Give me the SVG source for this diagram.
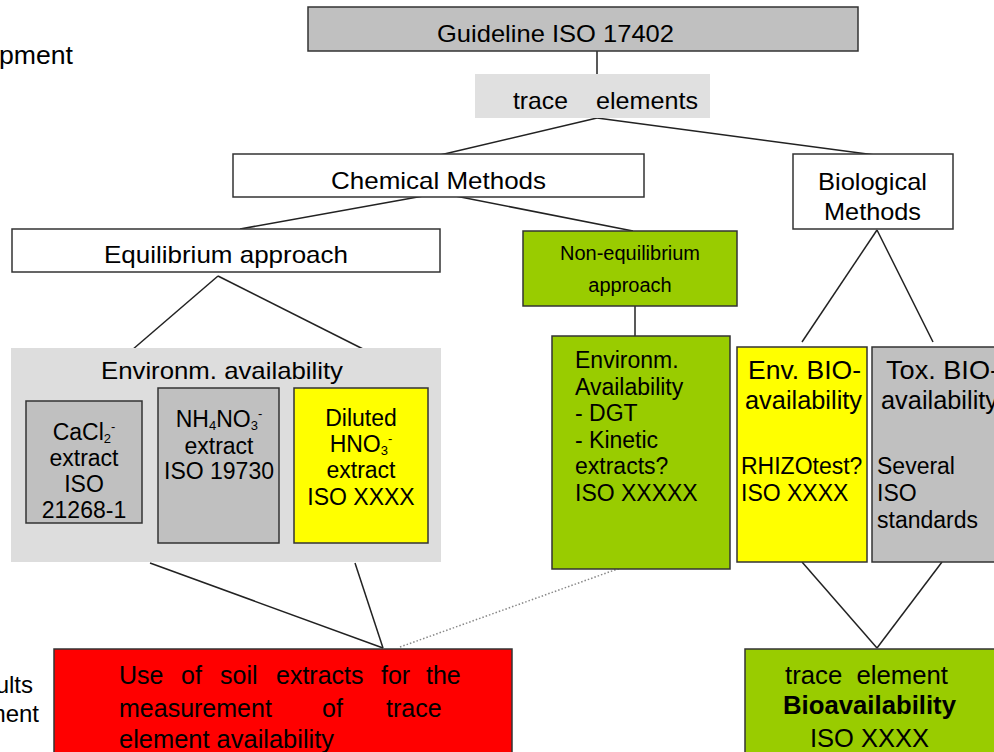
<svg xmlns="http://www.w3.org/2000/svg" width="994" height="752" viewBox="0 0 994 752">
<style>
text{font-family:"Liberation Sans",Arial,sans-serif;fill:#000}
.box{stroke:#333;stroke-width:1.5}
.c{text-anchor:middle}
.h{font-size:24px}
.m{font-size:23px}
.l{font-size:25px}
.s{font-size:20px}
.ln{stroke:#222;stroke-width:1.5;fill:none}
.dot{stroke:#888;stroke-width:1.5;stroke-dasharray:1.5 2;fill:none}
.sub{font-size:13px}
</style>
<rect width="994" height="752" fill="#fff"/>
<g id="side-labels">
<text x="-1" y="64" font-size="26" textLength="74" lengthAdjust="spacingAndGlyphs">pment</text>
<text x="33" y="693" text-anchor="end" style="font-size:24px">ults</text>
<text x="39" y="722" text-anchor="end" style="font-size:24px">ment</text>
</g>
<g id="connectors">
<line class="ln" x1="597" y1="50" x2="597" y2="76"/>
<line class="ln" x1="597" y1="118" x2="440" y2="155"/>
<line class="ln" x1="597" y1="118" x2="875" y2="155"/>
<line class="ln" x1="440" y1="193" x2="240" y2="229"/>
<line class="ln" x1="440" y1="193" x2="633" y2="231"/>
<line class="ln" x1="218" y1="276" x2="132" y2="350"/>
<line class="ln" x1="218" y1="276" x2="365" y2="350"/>
<line class="ln" x1="635" y1="306" x2="635" y2="350"/>
<line class="ln" x1="877" y1="230" x2="802" y2="342"/>
<line class="ln" x1="877" y1="230" x2="933" y2="342"/>
<line class="ln" x1="150" y1="563" x2="383" y2="648"/>
<line class="ln" x1="355" y1="563" x2="383" y2="648"/>
<line class="dot" x1="400" y1="647" x2="623" y2="567"/>
<line class="ln" x1="802" y1="562" x2="877" y2="648"/>
<line class="ln" x1="942" y1="562" x2="877" y2="648"/>
</g>
<g id="guideline">
<rect class="box" x="308" y="7" width="550" height="44" fill="#c0c0c0"/>
<text x="437" y="42" class="h" textLength="237" lengthAdjust="spacingAndGlyphs">Guideline ISO 17402</text>
</g>
<g id="trace-elements">
<rect x="475" y="74" width="235" height="44" fill="#e0e0e0"/>
<text x="513" y="109" class="h" textLength="55" lengthAdjust="spacingAndGlyphs">trace</text>
<text x="596" y="109" class="h" textLength="102" lengthAdjust="spacingAndGlyphs">elements</text>
</g>
<g id="chemical-methods">
<rect class="box" x="233" y="154" width="411" height="43" fill="#fff"/>
<text x="331" y="189" class="h" textLength="215" lengthAdjust="spacingAndGlyphs">Chemical Methods</text>
</g>
<g id="biological-methods">
<rect class="box" x="793" y="154" width="160" height="75" fill="#fff"/>
<text x="818" y="190" class="h" textLength="109" lengthAdjust="spacingAndGlyphs">Biological</text>
<text x="824" y="220" class="h" textLength="97" lengthAdjust="spacingAndGlyphs">Methods</text>
</g>
<g id="equilibrium">
<rect class="box" x="12" y="229" width="428" height="43" fill="#fff"/>
<text x="104" y="263" class="h" textLength="244" lengthAdjust="spacingAndGlyphs">Equilibrium approach</text>
</g>
<g id="non-equilibrium">
<rect class="box" x="523" y="231" width="214" height="75" fill="#99cc00"/>
<text x="630" y="260" class="s c">Non-equilibrium</text>
<text x="630" y="292" class="s c">approach</text>
</g>
<g id="environm-availability">
<rect x="11" y="348" width="430" height="214" fill="#dddddd"/>
<text x="101" y="379" class="h" textLength="242" lengthAdjust="spacingAndGlyphs">Environm. availability</text>
</g>
<g id="cacl2">
<rect class="box" x="26" y="401" width="116" height="122" fill="#c0c0c0"/>
<text x="84" y="440" class="m c">CaCl<tspan class="sub" dy="3">2</tspan><tspan class="sub" dy="-12">-</tspan></text>
<text x="84" y="466" class="m c">extract</text>
<text x="84" y="492" class="m c">ISO</text>
<text x="84" y="518" class="m c">21268-1</text>
</g>
<g id="nh4no3">
<rect class="box" x="158" y="388" width="121" height="155" fill="#c0c0c0"/>
<text x="219" y="427" class="m c">NH<tspan class="sub" dy="3">4</tspan><tspan dy="-3">NO</tspan><tspan class="sub" dy="3">3</tspan><tspan class="sub" dy="-12">-</tspan></text>
<text x="219" y="454" class="m c">extract</text>
<text x="219" y="479" class="m c">ISO 19730</text>
</g>
<g id="diluted-hno3">
<rect class="box" x="294" y="388" width="134" height="155" fill="#ffff00"/>
<text x="361" y="426" class="m c">Diluted</text>
<text x="361" y="452" class="m c">HNO<tspan class="sub" dy="3">3</tspan><tspan class="sub" dy="-12">-</tspan></text>
<text x="361" y="478" class="m c">extract</text>
<text x="361" y="505" class="m c">ISO XXXX</text>
</g>
<g id="env-availability-dgt">
<rect class="box" x="552" y="336" width="178" height="233" fill="#99cc00"/>
<text x="575" y="368" class="m">Environm.</text>
<text x="575" y="395" class="m">Availability</text>
<text x="575" y="421" class="m">- DGT</text>
<text x="575" y="448" class="m">- Kinetic</text>
<text x="575" y="474" class="m">extracts?</text>
<text x="575" y="501" class="m">ISO XXXXX</text>
</g>
<g id="env-bioavailability">
<rect class="box" x="737" y="347" width="130" height="215" fill="#ffff00"/>
<text x="748" y="379" class="l" textLength="113" lengthAdjust="spacingAndGlyphs">Env. BIO-</text>
<text x="745" y="409" class="l" textLength="117" lengthAdjust="spacingAndGlyphs">availability</text>
<text x="741" y="474" class="m">RHIZOtest?</text>
<text x="741" y="501" class="m">ISO XXXX</text>
</g>
<g id="tox-bioavailability">
<rect class="box" x="872" y="347" width="140" height="215" fill="#c0c0c0"/>
<text x="886" y="379" class="l" textLength="113" lengthAdjust="spacingAndGlyphs">Tox. BIO-</text>
<text x="881" y="409" class="l" textLength="117" lengthAdjust="spacingAndGlyphs">availability</text>
<text x="877" y="474" class="m">Several</text>
<text x="877" y="501" class="m">ISO</text>
<text x="877" y="528" class="m">standards</text>
</g>
<g id="soil-extracts">
<rect class="box" x="54" y="649" width="458" height="110" fill="#ff0000"/>
<text y="684" class="l"><tspan x="119">Use</tspan><tspan x="181">of</tspan><tspan x="220">soil</tspan><tspan x="276">extracts</tspan><tspan x="381">for</tspan><tspan x="426">the</tspan></text>
<text y="717" class="l"><tspan x="119">measurement</tspan><tspan x="322">of</tspan><tspan x="386">trace</tspan></text>
<text x="119" y="748" class="l" textLength="215" lengthAdjust="spacingAndGlyphs">element availability</text>
</g>
<g id="bioavailability">
<rect class="box" x="745" y="649" width="260" height="110" fill="#99cc00"/>
<text x="785" y="684" class="l" textLength="163" lengthAdjust="spacingAndGlyphs" style="white-space:pre">trace  element</text>
<text x="783" y="714" class="l" font-weight="bold" textLength="173" lengthAdjust="spacingAndGlyphs">Bioavailability</text>
<text x="810" y="747" class="l" textLength="119" lengthAdjust="spacingAndGlyphs">ISO XXXX</text>
</g>
</svg>
